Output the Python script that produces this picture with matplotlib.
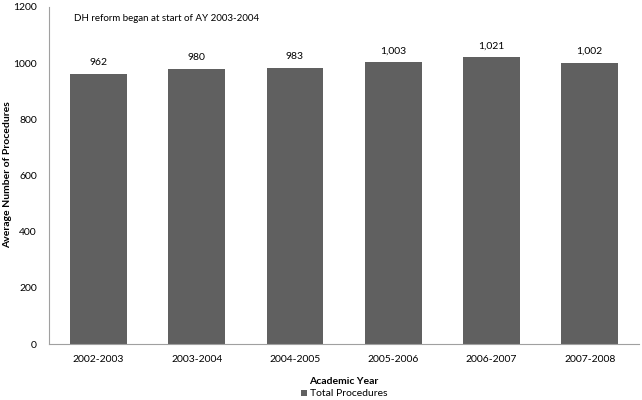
import matplotlib
matplotlib.use("Agg")
import matplotlib.pyplot as plt

years = ["2002-2003", "2003-2004", "2004-2005", "2005-2006", "2006-2007", "2007-2008"]
procedures = [962, 980, 983, 1003, 1021, 1002]
bar_labels = ["962", "980", "983", "1,003", "1,021", "1,002"]

plt.rcParams['font.family'] = ['Lato', 'DejaVu Sans']

fig = plt.figure(figsize=(6.42, 4.0), dpi=100)
ax = fig.add_axes([0.077, 0.14, 0.918, 0.8425])

x = range(len(years))
bars = ax.bar(x, procedures, width=0.58, color="#606060", label="Total Procedures")
for b, lab in zip(bars, bar_labels):
    ax.text(b.get_x() + b.get_width() / 2, b.get_height() + 25, lab,
            ha="center", va="bottom", fontsize=7.5)

ax.set_xlim(-0.5, len(years) - 0.5)
ax.set_ylim(0, 1200)
ax.set_yticks(range(0, 1201, 200))
ax.set_xticks(list(x))
ax.set_xticklabels(years)
ax.tick_params(axis="both", length=0, labelsize=7.5, pad=8)
ax.tick_params(axis="y", pad=9)

for s in ["top", "right"]:
    ax.spines[s].set_visible(False)
for s in ["left", "bottom"]:
    ax.spines[s].set_color("#a0a0a0")
    ax.spines[s].set_linewidth(0.8)

# axis titles placed by hand to match the reference
fig.text(8 / 642, 1 - 175 / 400, "Average Number of Procedures", rotation=90,
         ha="center", va="center", fontsize=7.5, fontweight="bold")
fig.text(344 / 642, 1 - 381 / 400, "Academic Year", ha="center", va="center",
         fontsize=7.5, fontweight="bold")

ax.text(-0.25, 1160, "DH reform began at start of AY 2003-2004", fontsize=7, va="center")

leg = fig.legend(loc="center", bbox_to_anchor=(344 / 642, 1 - 394 / 400), frameon=False,
                 fontsize=7.5, handlelength=0.6, handleheight=0.6, handletextpad=0.3,
                 borderpad=0, borderaxespad=0)

fig.savefig("out.png", dpi=100)
